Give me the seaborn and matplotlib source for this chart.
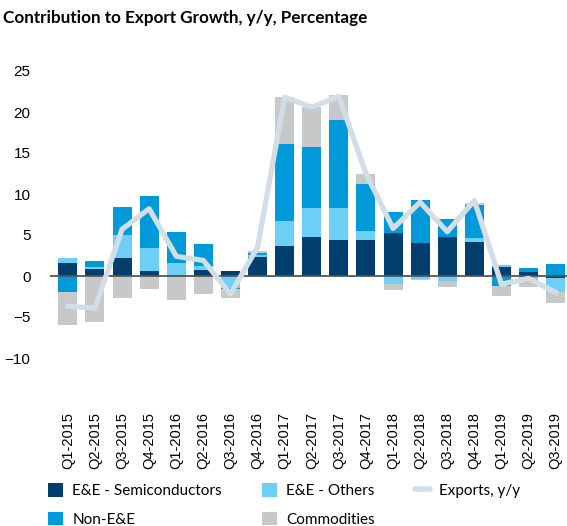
import matplotlib
matplotlib.use("Agg")
import matplotlib.pyplot as plt
import numpy as np
import pandas as pd
import seaborn as sns
from matplotlib.lines import Line2D
from matplotlib.patches import Patch

quarters = [
    "Q1-2015", "Q2-2015", "Q3-2015", "Q4-2015", "Q1-2016", "Q2-2016", "Q3-2016",
    "Q4-2016", "Q1-2017", "Q2-2017", "Q3-2017", "Q4-2017", "Q1-2018", "Q2-2018",
    "Q3-2018", "Q4-2018", "Q1-2019", "Q2-2019", "Q3-2019",
]
semis = [1.6, 0.9, 2.15, 0.6, 0.1, 0.7, 0.6, 2.3, 3.6, 4.7, 4.4, 4.4, 5.2, 4.0, 4.8, 4.2, 1.05, 0.5, -0.2]
ee_others = [0.6, 0.2, 2.85, 2.8, 1.45, 0.5, -1.5, 0.3, 3.1, 3.55, 3.85, 1.1, -1.0, -0.4, -0.6, 0.4, 0.3, -0.7, -1.7]
non_ee = [-2.0, 0.7, 3.45, 6.3, 3.85, 2.65, -0.1, 0.2, 9.35, 7.5, 10.75, 5.7, 2.6, 5.3, 2.1, 4.1, -1.2, 0.45, 1.45]
commodities = [-4.0, -5.6, -2.7, -1.6, -2.9, -2.2, -1.1, 0.3, 5.75, 4.9, 3.05, 1.2, -0.7, -0.1, -0.7, 0.25, -1.2, -0.6, -1.4]
exports = [-3.7, -3.9, 5.7, 8.2, 2.4, 1.9, -2.2, 3.5, 21.8, 20.6, 21.9, 12.5, 5.8, 9.0, 5.4, 9.2, -1.0, -0.3, -2.0]

series_names = ["E&E - Semiconductors", "E&E - Others", "Non-E&E", "Commodities"]
series_values = [semis, ee_others, non_ee, commodities]
colors = ["#023f6f", "#6dcff6", "#0099da", "#c7c8ca"]
line_color = "#d3dde5"

df = pd.DataFrame(dict(zip(series_names, series_values)), index=quarters)
pos_stack = df.clip(lower=0).cumsum(axis=1)
neg_stack = df.clip(upper=0).cumsum(axis=1)

plt.rcParams["font.family"] = ["Liberation Sans", "DejaVu Sans"]

fig = plt.figure(figsize=(5.67, 5.26), dpi=100)
ax = fig.add_axes([50 / 567, (526 - 366.2) / 526, 517 / 567, 311.6 / 526])

# draw cumulative totals from the outermost layer inwards so that each
# layer covers the part of the one drawn before it
for name, color in reversed(list(zip(series_names, colors))):
    for stack in (pos_stack, neg_stack):
        sns.barplot(x=quarters, y=stack[name].values, color=color, width=0.7,
                    saturation=1, errorbar=None, ax=ax, zorder=2)

ax.axhline(0, color="#555555", linewidth=1.3, zorder=3)
sns.lineplot(x=np.arange(len(quarters)), y=exports, color=line_color,
             linewidth=3.8, ax=ax, zorder=4)

ax.set_xlim(-0.66, 18.42)
ax.set_ylim(-11, 27)
ax.set_yticks([-10, -5, 0, 5, 10, 15, 20, 25])
ax.set_xticks(range(len(quarters)))
ax.set_xticklabels(quarters, rotation=90)
ax.tick_params(axis="y", length=0, pad=14, labelsize=11)
ax.tick_params(axis="x", length=0, pad=33, labelsize=10.5)
for s in ax.spines.values():
    s.set_visible(False)
ax.set_xlabel("")
ax.set_ylabel("")

fig.text(3 / 567, 1 - 18 / 526, "Contribution to Export Growth, y/y, Percentage",
         fontsize=12.3, fontweight="bold", family="Lato", va="center", ha="left")

handles = [
    Patch(facecolor=colors[0]), Patch(facecolor=colors[2]),
    Patch(facecolor=colors[1]), Patch(facecolor=colors[3]),
    Line2D([], [], color=line_color, linewidth=4, solid_capstyle="round"),
]
labels = ["E&E - Semiconductors", "Non-E&E", "E&E - Others", "Commodities", "Exports, y/y"]
fig.legend(handles, labels, ncol=3, loc="upper left", bbox_to_anchor=(48 / 567, 1 - 483 / 526),
           frameon=False, prop={"family": "Lato", "size": 11}, handlelength=1.0,
           handleheight=1.0, handletextpad=0.6, columnspacing=2.6, labelspacing=0.9,
           borderaxespad=0, borderpad=0)

fig.savefig("out.png", dpi=100)
